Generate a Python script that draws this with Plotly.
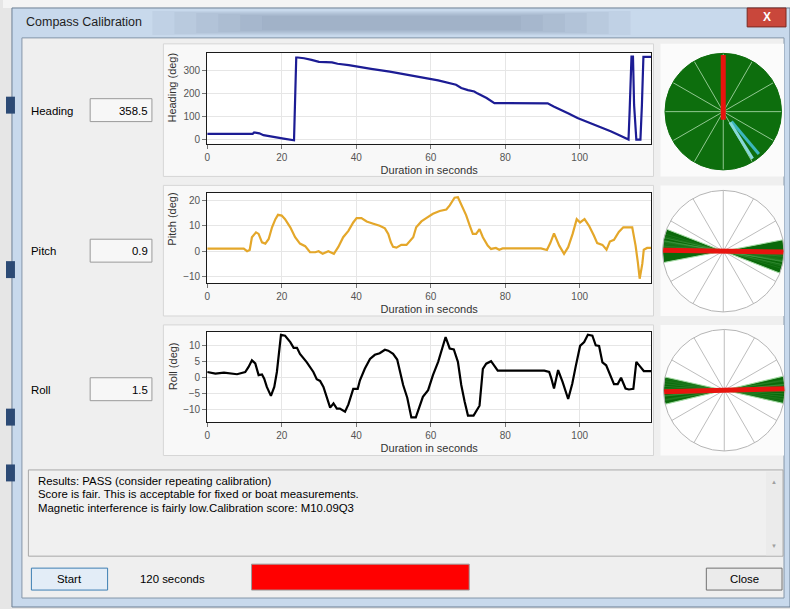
import plotly.graph_objects as go

W, H = 790, 609

# ---------------- data ----------------
heading_t = [0, 12.2, 12.6, 14, 15.1, 17.8, 20.5, 23.3, 23.5, 23.7, 23.9, 24.3, 26, 28, 30, 33.5, 35, 38, 40, 44,
             49, 53, 57.9, 62, 66.8, 68.2, 70, 71.7, 72.5, 75, 77.1, 91.4, 93, 95, 97, 99.4, 101.5, 103.8, 106,
             108.3, 110.5, 112.8, 113.1, 113.4, 113.9, 114.3, 114.6, 115.2, 116.3, 116.7, 117.1, 119.2]
heading_v = [25, 25, 31, 27, 19, 10, 4, -3, 120, 240, 355, 355, 352, 345, 336, 334, 328, 322, 316, 306,
             294, 282, 270, 256, 237, 223, 214, 208, 200, 180, 158, 157, 143, 129, 113, 93, 80, 65, 50,
             36, 20, 4, 0, 122, 359, 359, 150, 0, 0, 150, 358, 358]

pitch_t = [0, 9.8, 10.7, 11.4, 12, 13.1, 13.8, 14.7, 15.6, 16.5, 17.4, 18.3, 19, 20, 20.9, 22.3, 23.6, 24.9,
           26.3, 27.6, 29, 29.9, 31, 32.5, 34, 35.2, 36.5, 37.9, 39.2, 40.1, 41.4, 42.8, 44.6, 46.3, 47.7,
           48.6, 49.3, 49.9, 50.8, 52.1, 53.5, 54.4, 55.3, 56.1, 57.5, 58.8, 60.6, 62.4, 64.2, 65.1, 66.4,
           67.3, 68.2, 69.5, 70.5, 71.3, 72.2, 73.1, 74, 75.3, 76.2, 77.5, 78.4, 79.3, 89.6, 91.2, 92.1, 93.1,
           94.5, 95.8, 96.9, 98.1, 99.2, 100.1, 101.3, 102.5, 103.8, 104.7, 106.1, 107.2, 108.1, 109.2, 110.5,
           111.7, 114.1, 115, 115.6, 116.1, 116.8, 117.2, 118.1, 119.2]
pitch_v = [1, 1, 0, 0.5, 5.5, 7.4, 6.8, 3.5, 3, 4.8, 9.4, 12.6, 14.3, 14, 12.6, 9.4, 5.5, 3,
           2, -0.4, -0.4, 0, -1, 0, -1, 1.7, 5.5, 8, 11.3, 13, 13, 11.7, 10.8, 10, 9,
           6.8, 3.5, 1.7, 1.4, 2.5, 2.5, 4, 5.5, 9.4, 11.7, 13, 14.7, 15.8, 16.4, 18, 21,
           21.2, 18.5, 14.2, 10, 6.8, 6.8, 8.7, 5.5, 2.2, 0.9, 1.3, 0.6, 1.1, 1.1, 0.5, 3.2, 7,
           2.2, -1, 1.6, 6.8, 12.6, 11.3, 12.6, 10, 6.2, 3.2, 2.5, 0.6, 3.8, 4.5, 7.6,
           9.4, 9.4, 2.2, -4.3, -10.8, -5, 0.6, 1.3, 1.3]

roll_t = [0, 2.2, 4.5, 8, 10.2, 11.1, 12, 12.9, 13.8, 14.7, 15.3, 16, 17.1, 18, 18.7, 19.8, 20.9, 22.3, 23.2,
          24.1, 24.9, 26.7, 28.5, 29.4, 30.3, 31.2, 33, 33.9, 34.8, 35.6, 37, 37.9, 39.2, 40.4, 41, 42.3, 43.7,
          45, 46.3, 47.7, 48.6, 49.9, 51, 51.7, 52.6, 53.7, 54.8, 56, 57, 57.9, 59.3, 60.6, 62, 63.1, 64, 65.1,
          66.2, 67.3, 68.2, 69.1, 70, 71.5, 73.1, 74, 74.9, 76.2, 78, 90.5, 91.8, 92.4, 93.1, 94.2, 95.4, 96.9,
          98, 98.9, 100.1, 101.2, 102.2, 103.4, 104.3, 105.2, 106.1, 107.1, 108.1, 109.2, 110.2, 111.1, 112.3,
          113.2, 114.4, 115.2, 116.3, 117.2, 119.2]
roll_v = [1.7, 1.2, 1.5, 1, 1.7, 3.3, 5.4, 4.4, 0.7, 0.9, -0.4, -3, -5.8, -3, 1.7, 13.4, 13.1, 11.1, 9.3,
          9.3, 7.4, 4.8, 1.7, -0.6, -1.1, -3, -9.5, -8.2, -9.8, -9.8, -10.8, -8.5, -3.6, -3.6, -0.9, 2.7, 5.8,
          7.1, 7.6, 8.7, 8.4, 7.4, 5.6, 1.7, -2.4, -6.4, -12.6, -12.6, -9.2, -6.1, -4, 0.7, 4.9, 9.6, 12.7, 9.1,
          8.8, 4.9, -2.4, -7.6, -12, -12, -8.9, 2.7, 4.3, 5.1, 2.1, 2.1, 1.7, -0.4, -3.5, 2.3, -1.4, -6.8,
          -2, 3.3, 9.9, 11.1, 13.4, 13.1, 10.1, 9.9, 4.7, 3.8, 0.7, -2.1, -2.1, -0.1, -3.5,
          -3.8, -3.6, 4.9, 3.3, 2, 2]

x_ticks = [0, 20, 40, 60, 80, 100]
heading_ticks = [0, 100, 200, 300]
pitch_ticks = [-10, 0, 10, 20]
roll_ticks = [-10, -5, 0, 5, 10]

readout_labels = ["Heading", "Pitch", "Roll"]
readout_values = [358.5, 0.9, 1.5]
heading_marks = [140, 148]

result_lines = ["Results: PASS (consider repeating calibration)",
                "Score is fair. This is acceptable for fixed or boat measurements.",
                "Magnetic interference is fairly low.Calibration score: M10.09Q3"]
duration_text = "120 seconds"
window_title = "Compass Calibration"

# ---------------- helpers ----------------
UI = "Liberation Sans"
shapes, annos = [], []


def fx(px):
    return px / W


def fy(py):
    return 1 - py / H


def rect(x0, y0, x1, y1, fill, line=None, lw=1, layer="below"):
    shapes.append(dict(type="rect", xref="paper", yref="paper", x0=fx(x0), x1=fx(x1), y0=fy(y1), y1=fy(y0),
                       fillcolor=fill, line=dict(color=line if line else fill, width=lw if line else 0),
                       layer=layer))


def text(x, y, s, size=11.4, color="#000000", xanchor="left", angle=0, bold=False, family=UI):
    annos.append(dict(xref="paper", yref="paper", x=fx(x), y=fy(y), text=f"<b>{s}</b>" if bold else s,
                      showarrow=False, xanchor=xanchor, yanchor="middle", textangle=angle,
                      font=dict(family=family, size=size, color=color)))


# ---------------- window chrome ----------------
rect(0, 0, 790, 8, "#f4f4f4")
rect(9, 8, 790, 609, "#c8d9ec", "#6d7f94")
for i in range(6):
    rect(150 + 22 * i, 11 + i, 630 - 22 * i, 35 - i, "rgba(100,120,145,0.07)")
rect(747, 8, 786, 27, "#c9473b", "#7a2a22")
text(766.5, 17.5, "X", size=12, color="#ffffff", xanchor="center", bold=True)
for y0 in (97, 262, 410, 466):
    rect(3, y0, 12, y0 + 17, "#2c4a75")
rect(19, 38, 784, 600, "#efefef", "#8495a8")
text(21, 22, window_title, size=12.5, color="#1e1e1e")

# chart panels
panels = [(44, 177), (186, 317), (326, 457)]
for (a, b) in panels:
    rect(161, a, 653, b, "#f8f8f8", "#d6d6d6")
    rect(660, a, 784, b, "#fbfbfb")

plot_rows = [(53.3, 144.0), (193.3, 284.0), (332.7, 423.3)]
PX0, PX1 = 205.0, 650.7
for (a, b) in plot_rows:
    rect(PX0, a, PX1, b, "#ffffff")

# readout labels and boxes
label_y = [111, 252, 391]
for lab, val, yc in zip(readout_labels, readout_values, label_y):
    text(26, yc, lab)
    rect(87.5, yc - 12, 149.5, yc + 11, "#f7f7f7", "#9a9a9a")
    text(147.5, yc, f"{val}", xanchor="right")

# y axis titles (placed as in the reference)
text(170, 87.5, "Heading (deg)", size=11, color="#333333", xanchor="center", angle=-90)
text(170, 220, "Pitch (deg)", size=11, color="#333333", xanchor="center", angle=-90)
text(170, 367, "Roll (deg)", size=11, color="#333333", xanchor="center", angle=-90)

# results box
rect(25.5, 471.5, 783, 558, "#f0f0f0", "#a8a8a8")
rect(766, 473, 782, 557, "#ebebeb")
text(774, 484, "▲", size=6, color="#a0a0a0", xanchor="center")
text(774, 548, "▼", size=6, color="#a0a0a0", xanchor="center")
for i, s in enumerate(result_lines):
    text(33, 482.5 + 13.5 * i, s)

# buttons and progress bar
rect(28.5, 570, 105, 592, "#e3edf7", "#3d7fb3")
text(66.5, 581, "Start", xanchor="center")
text(136, 580.5, duration_text)
rect(249.5, 566, 468, 592, "#ff0000", "#9a9a9a")
rect(706, 570, 782, 592, "#ebebeb", "#707070")
text(744, 581, "Close", xanchor="center")

# ---------------- figure ----------------
fig = go.Figure()

line_cols = ["#1c1c94", "#e4a72a", "#000000"]
series = [(heading_t, heading_v), (pitch_t, pitch_v), (roll_t, roll_v)]
y_ranges = [[-17, 374], [-12.5, 23], [-14, 14.4]]
y_tickvals = [heading_ticks, pitch_ticks, roll_ticks]

for i, ((t, v), col) in enumerate(zip(series, line_cols)):
    n = "" if i == 0 else str(i + 1)
    fig.add_trace(go.Scatter(x=t, y=v, mode="lines", line=dict(color=col, width=2.2),
                             xaxis="x" + n, yaxis="y" + n, showlegend=False, hoverinfo="skip"))
    a, b = plot_rows[i]
    common = dict(showline=True, mirror=True, linecolor="#1a1a1a", linewidth=1.2, ticks="outside",
                  ticklen=4, tickcolor="#777777", gridcolor="#e6e6e6", zeroline=False,
                  tickfont=dict(family=UI, size=10, color="#555555"))
    fig.update_layout(**{
        "xaxis" + n: dict(domain=[fx(PX0), fx(PX1)], anchor="y" + n, range=[0, 119.2],
                          tickvals=x_ticks,
                          title=dict(text="Duration in seconds", standoff=4,
                                     font=dict(family=UI, size=11, color="#333333")), **common),
        "yaxis" + n: dict(domain=[fy(b), fy(a)], anchor="x" + n, range=y_ranges[i],
                          tickvals=y_tickvals[i], **common),
    })

# ---------------- dials (polar) ----------------
dial_domains = [((664.5, 781.5), (53.5, 170.5)), ((662, 784), (191, 313)), ((663, 785), (330.5, 452.5))]
for k, ((x0, x1), (y0, y1)) in enumerate(dial_domains):
    name = "polar" if k == 0 else f"polar{k + 1}"
    dark = k == 0
    fig.update_layout(**{name: dict(
        domain=dict(x=[fx(x0), fx(x1)], y=[fy(y1), fy(y0)]),
        bgcolor="#0d6e0d" if dark else "#ffffff",
        radialaxis=dict(visible=False, range=[0, 1]),
        angularaxis=dict(rotation=90, direction="clockwise", tickmode="linear", tick0=0, dtick=30,
                         showticklabels=False, ticks="", showgrid=True,
                         gridcolor="rgba(190,230,190,0.75)" if dark else "#bdbdbd",
                         showline=True, linecolor="#0d6e0d" if dark else "#b5b5b5", linewidth=1),
    )})

# heading dial: marks and needle
for ang, col in zip(heading_marks, ["#3cb6bd", "#86d8d8"]):
    fig.add_trace(go.Scatterpolar(r=[0.22, 0.95], theta=[ang, ang], mode="lines", subplot="polar",
                                  line=dict(color=col, width=3), showlegend=False, hoverinfo="skip"))
hdg = readout_values[0]
fig.add_trace(go.Scatterpolar(r=[0.14, 0.97], theta=[180, 0], mode="lines", subplot="polar",
                              line=dict(color="#e8140e", width=5), showlegend=False, hoverinfo="skip",
                              name=f"heading {hdg}"))

# pitch / roll dials: swept range (filled wedges), sample lines, current value
STEPS = 24
for k, vals, cur, sign in [(2, pitch_v, readout_values[1], 1), (3, roll_v, readout_values[2], -1)]:
    sp = f"polar{k}"
    lo, hi = sorted([sign * min(vals), sign * max(vals)])
    for base in (90, 270):
        arc = [base + lo + (hi - lo) * j / STEPS for j in range(STEPS + 1)]
        fig.add_trace(go.Scatterpolar(r=[0] + [1] * (STEPS + 1) + [0], theta=[base] + arc + [base],
                                      mode="lines", fill="toself", fillcolor="#0a690a", subplot=sp,
                                      line=dict(color="#a9dca9", width=1),
                                      showlegend=False, hoverinfo="skip"))
    rr, th = [], []
    for v in vals[::3]:
        rr += [1, 1, None]
        th += [90 + sign * v, 270 + sign * v, None]
    fig.add_trace(go.Scatterpolar(r=rr, theta=th, mode="lines", subplot=sp,
                                  line=dict(color="rgba(150,215,150,0.22)", width=0.5),
                                  showlegend=False, hoverinfo="skip"))
    fig.add_trace(go.Scatterpolar(r=[1, 1], theta=[90 + sign * cur, 270 + sign * cur], mode="lines",
                                  subplot=sp, line=dict(color="#e8140e", width=5),
                                  showlegend=False, hoverinfo="skip"))

fig.update_layout(width=W, height=H, margin=dict(l=0, r=0, t=0, b=0), paper_bgcolor="#e6e6e6",
                  plot_bgcolor="rgba(0,0,0,0)", shapes=shapes, annotations=annos, showlegend=False,
                  font=dict(family=UI))
fig.write_html("out.html", config={"displayModeBar": False},
               post_script="document.body.style.margin='0px';document.body.style.overflow='hidden';")
